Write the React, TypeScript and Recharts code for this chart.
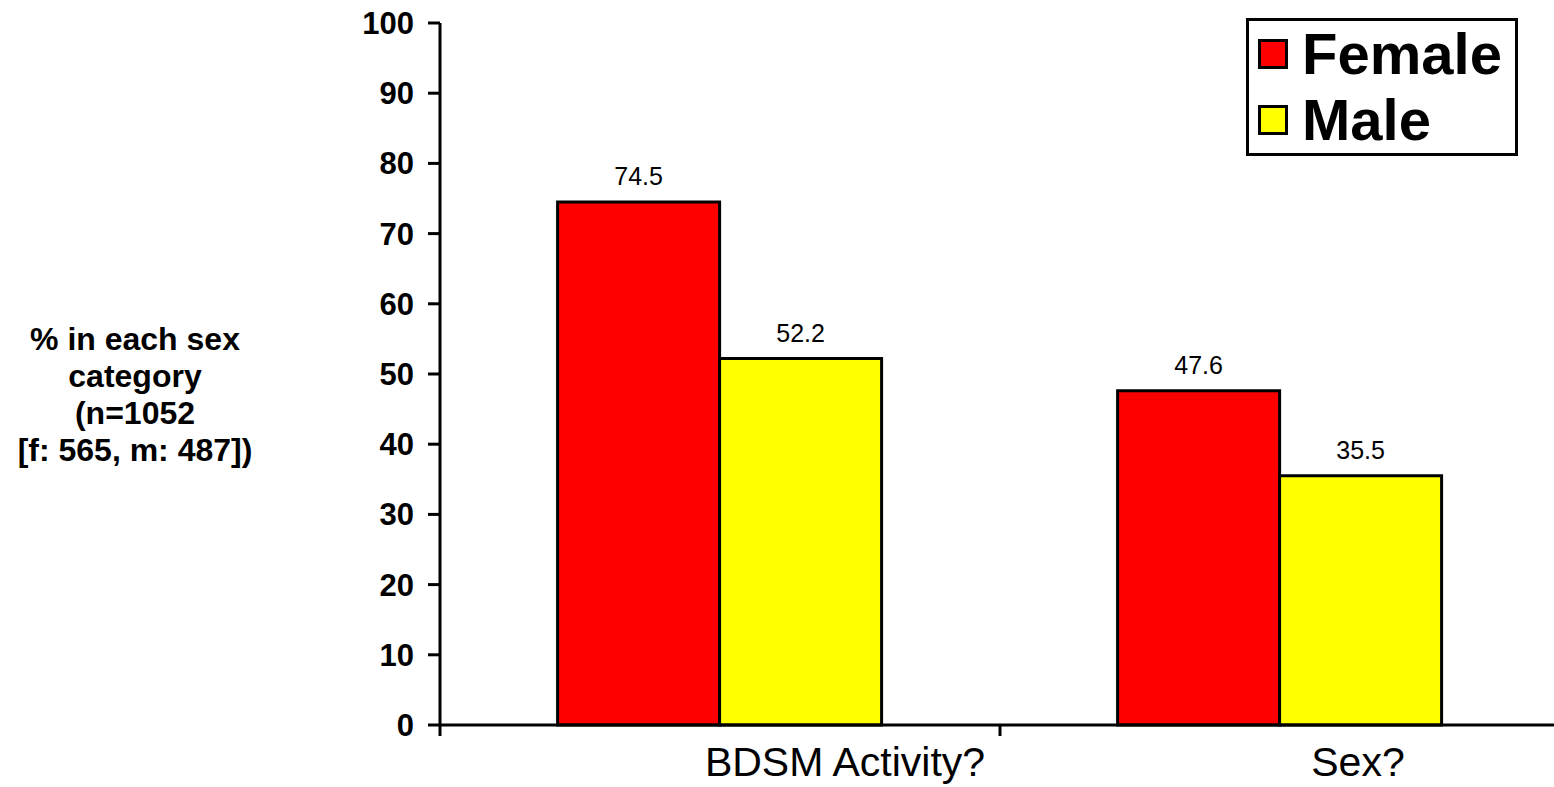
import React from 'react';
import { BarChart, Bar, XAxis, YAxis, Legend, LabelList } from 'recharts';

const categories = ['BDSM Activity?', 'Sex?'];
const femaleValues = [74.5, 47.6];
const maleValues = [52.2, 35.5];
const yTicks = [0, 10, 20, 30, 40, 50, 60, 70, 80, 90, 100];
const yLabelLines = ['% in each sex', 'category', '(n=1052', '[f: 565, m: 487])'];
const seriesNames = ['Female', 'Male'];

const FONT = '"Liberation Sans", Arial, Helvetica, sans-serif';
const RED = '#ff0000';
const YELLOW = '#ffff00';

const data = categories.map((name, i) => ({
  name,
  female: femaleValues[i],
  male: maleValues[i],
}));

// category labels in the original sit a bit right of the band centre
const labelShift = [125, 78];

const CategoryTick = (props: any) => {
  const { x, y, payload, index } = props;
  const half = payload?.offset ?? 280;
  return (
    <g>
      <line x1={x - half} x2={x - half} y1={y} y2={y + 11} stroke="#000" strokeWidth={3} />
      <text
        x={x + (labelShift[index] ?? 0)}
        y={y + 51}
        textAnchor="middle"
        fontFamily={FONT}
        fontSize={41}
        fill="#000"
      >
        {payload.value}
      </text>
    </g>
  );
};

const YLabel = (props: any) => {
  const vb = props.viewBox || { y: 23, height: 702 };
  const cy = vb.y + vb.height / 2 + 20;
  const lineH = 37;
  const top = cy - ((yLabelLines.length - 1) * lineH) / 2;
  return (
    <text
      x={135}
      y={top}
      textAnchor="middle"
      dominantBaseline="central"
      fontFamily={FONT}
      fontSize={32}
      fontWeight="bold"
      fill="#000"
    >
      {yLabelLines.map((line, i) => (
        <tspan key={line} x={135} y={top + i * lineH}>
          {line}
        </tspan>
      ))}
    </text>
  );
};

const LegendBox = () => {
  const colors = [RED, YELLOW];
  return (
    <div
      style={{
        width: 266,
        height: 132,
        border: '3px solid #000',
        background: '#fff',
        fontFamily: FONT,
        boxSizing: 'content-box',
      }}
    >
      {seriesNames.map((name, i) => (
        <div
          key={name}
          style={{ display: 'flex', alignItems: 'center', height: 66, paddingLeft: 9 }}
        >
          <span
            style={{
              width: 24,
              height: 24,
              background: colors[i],
              border: '3px solid #000',
              display: 'inline-block',
              marginRight: 14,
            }}
          />
          <span style={{ fontSize: 58, fontWeight: 'bold', color: '#000', lineHeight: '66px' }}>
            {name}
          </span>
        </div>
      ))}
    </div>
  );
};

export default function App() {
  return (
    <div style={{ position: 'fixed', left: 0, top: 0, background: '#fff', overflow: 'hidden', width: 1554, height: 787 }}>
      <BarChart
        width={1554}
        height={787}
        data={data}
        margin={{ top: 23, right: -6, left: 0, bottom: 0 }}
        barCategoryGap="21%"
        barGap={0}
      >
        <XAxis
          dataKey="name"
          height={62}
          axisLine={{ stroke: '#000', strokeWidth: 3 }}
          tickLine={false}
          tickSize={0}
          tickMargin={0}
          interval={0}
          tick={<CategoryTick />}
        />
        <YAxis
          width={440}
          domain={[0, 100]}
          ticks={yTicks}
          interval={0}
          axisLine={{ stroke: '#000', strokeWidth: 3 }}
          tickLine={{ stroke: '#000', strokeWidth: 3 }}
          tickSize={12}
          tickMargin={14}
          tick={{ fill: '#000', fontSize: 31, fontWeight: 'bold', fontFamily: FONT }}
          label={<YLabel />}
        />
        <Legend
          layout="vertical"
          align="center"
          verticalAlign="middle"
          content={<LegendBox />}
          wrapperStyle={{ left: 1246, top: 18, width: 272, height: 138 }}
        />
        <Bar dataKey="female" name="Female" fill={RED} stroke="#000" strokeWidth={3} isAnimationActive={false}>
          <LabelList dataKey="female" position="top" offset={17} fill="#000" fontSize={25} fontFamily={FONT} />
        </Bar>
        <Bar dataKey="male" name="Male" fill={YELLOW} stroke="#000" strokeWidth={3} isAnimationActive={false}>
          <LabelList dataKey="male" position="top" offset={17} fill="#000" fontSize={25} fontFamily={FONT} />
        </Bar>
      </BarChart>
    </div>
  );
}
